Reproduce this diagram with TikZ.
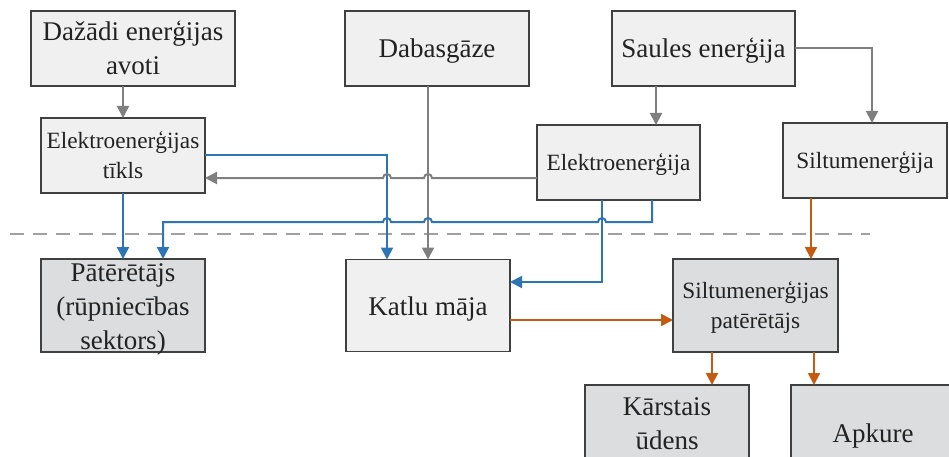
\documentclass[tikz,border=0pt]{standalone}
\usepackage{fontspec}
\setmainfont{Liberation Serif}[Ligatures=TeX]
\newfontfamily\timesx{Liberation Serif}
\usetikzlibrary{arrows.meta,calc}

\definecolor{edgeC}{HTML}{404040}
\definecolor{fillLight}{HTML}{F0F0F0}
\definecolor{fillDark}{HTML}{DCDDDE}
\definecolor{txtC}{HTML}{222222}
\definecolor{gLine}{HTML}{7F7F7F}
\definecolor{bLine}{HTML}{2E75B6}
\definecolor{oLine}{HTML}{C55A11}
\definecolor{sepC}{HTML}{A0A0A0}

% text sizes and line struts (height above / depth below the baseline)
\newcommand\LargeTxt{\timesx\fontsize{27pt}{34pt}\selectfont}
\newcommand\SmallTxt{\timesx\fontsize{23.3pt}{29.5pt}\selectfont}
\newcommand\BStr{\rule[-6pt]{0pt}{31pt}}
\newcommand\SStr{\rule[-5.5pt]{0pt}{27pt}}

\tikzset{
  box/.style={draw=edgeC, line width=1.5pt, inner sep=0pt, outer sep=0pt},
  lbox/.style={box, fill=fillLight},
  dbox/.style={box, fill=fillDark},
  ltxt/.style={font=\LargeTxt, align=center, inner sep=0pt, text=txtC},
  stxt/.style={font=\SmallTxt, align=center, inner sep=0pt, text=txtC},
  flow/.style={line width=2pt, -{Triangle[length=12pt,width=12pt]}},
  gline/.style={flow, draw=gLine},
  bline/.style={flow, draw=bLine},
  oline/.style={flow, draw=oLine},
}

\begin{document}
\begin{tikzpicture}[x=1pt, y=-1pt]
\useasboundingbox (0,0) rectangle (949,457);
\clip (0,0) rectangle (949,457);
\fill[white] (0,0) rectangle (949,457);

% top row: sources
\node[lbox, minimum width=204pt, minimum height=75pt,
  label={[ltxt]center:{\BStr Dažādi enerģijas\\\BStr avoti}}] (daz) at (133,48.5) {};
\node[lbox, minimum width=184pt, minimum height=75pt,
  label={[ltxt]center:{\BStr Dabasgāze}}] (gas) at (437,48.5) {};
\node[lbox, minimum width=183pt, minimum height=75pt,
  label={[ltxt]center:{\BStr Saules enerģija}}] (sun) at (703.5,48.5) {};

% second row: carriers
\node[lbox, minimum width=164pt, minimum height=75pt,
  label={[stxt]center:{\SStr Elektroenerģijas\\\SStr tīkls}}] (grid) at (123,155.5) {};
\node[lbox, minimum width=163pt, minimum height=75pt,
  label={[stxt]center:{\SStr Elektroenerģija}}] (el) at (618.5,162.5) {};
\node[lbox, minimum width=164pt, minimum height=75pt,
  label={[stxt]center:{\SStr Siltumenerģija}}] (heat) at (865,160.5) {};

% boundary of the system
\draw[sepC, line width=2pt, dash pattern=on 14pt off 9pt] (10,234) -- (870,234);

% third row: consumers and boiler house
\node[dbox, minimum width=164pt, minimum height=93pt,
  label={[ltxt]center:{\BStr Pātērētājs\\\BStr (rūpniecības\\\BStr sektors)}}] (ind) at (123,305.5) {};
\node[lbox, minimum width=164pt, minimum height=92pt,
  label={[ltxt]center:{\BStr Katlu māja}}] (boil) at (428,305.5) {};
\node[dbox, minimum width=165pt, minimum height=93pt,
  label={[stxt]center:{\SStr Siltumenerģijas\\\SStr patērētājs}}] (hcons) at (755.5,305.5) {};

% fourth row: heat uses
\node[dbox, minimum width=164pt, minimum height=95pt,
  label={[ltxt,yshift=9.5pt]center:{\BStr Kārstais\\\BStr ūdens}}] (hot) at (667,432.5) {};
\node[dbox, minimum width=164pt, minimum height=95pt,
  label={[ltxt]center:{\BStr Apkure}}] (apk) at (873,432.5) {};

% attachment points of the connectors
\coordinate (vb) at ([xshift=-41pt]boil.north);
\coordinate (vg) at (boil.north);
\coordinate (g1) at ([yshift=-15.5pt]el.west);
\coordinate (e1) at ([xshift=37.5pt]el.north);
\coordinate (e2) at ([xshift=-16.5pt]el.south);
\coordinate (e3) at ([xshift=33.5pt]el.south);
\coordinate (b2) at ([yshift=23.5pt]boil.east);
\coordinate (b3) at ([yshift=-14.5pt]boil.east);
\coordinate (i2) at ([xshift=40pt]ind.north);
\coordinate (h1) at ([xshift=7pt]heat.north);
\coordinate (h2) at ([xshift=55.5pt]hcons.north);
\coordinate (k1) at ([xshift=45pt]hot.north);
\coordinate (k2) at ([xshift=-59pt]apk.north);
\coordinate (bus) at (0,222);

% grey: primary energy
\draw[gline] (grid.north |- daz.south) -- (grid.north);
\draw[gline] (gas.south -| vg) -- (vg);
\draw[gline] (e1 |- sun.south) -- (e1);
\draw[gline] (sun.east) -| (h1);

% blue: electricity
\draw[bline] (grid.east) -| (vb);
\draw[bline] (grid.south) -- (ind.north);
\draw[bline] (e2) |- (b2);
\draw[bline] (e3) |- ($(e2 |- bus)+(4pt,0)$)
  arc[start angle=0, end angle=180, radius=4pt]
  -- ($(vg |- bus)+(4pt,0)$) arc[start angle=0, end angle=180, radius=4pt]
  -- ($(vb |- bus)+(4pt,0)$) arc[start angle=0, end angle=180, radius=4pt]
  -- (i2 |- bus) -- (i2);

% grey: surplus electricity back to the grid
\draw[gline] (g1) -- ($(vg |- g1)+(4pt,0)$)
  arc[start angle=0, end angle=180, radius=4pt]
  -- ($(vb |- g1)+(4pt,0)$) arc[start angle=0, end angle=180, radius=4pt]
  -- (g1 -| grid.east);

% orange: heat
\draw[oline] (h2 |- heat.south) -- (h2);
\draw[oline] (b3) -- (b3 -| hcons.west);
\draw[oline] (k1 |- hcons.south) -- (k1);
\draw[oline] (k2 |- hcons.south) -- (k2);
\end{tikzpicture}
\end{document}
